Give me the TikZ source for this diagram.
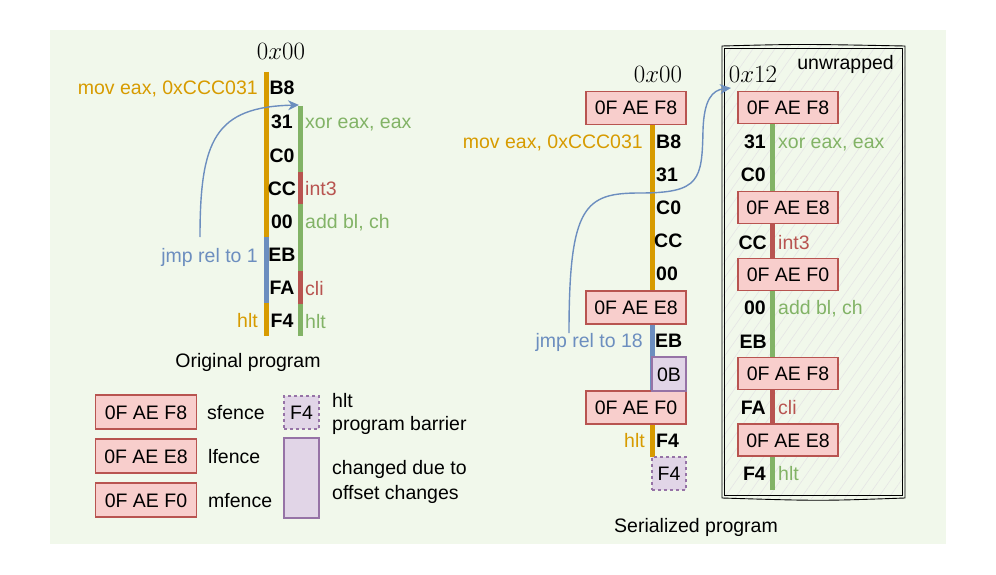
\documentclass[tikz,border=0pt]{standalone}
\usepackage{fontspec}
\setmainfont{Liberation Sans}
\usetikzlibrary{patterns.meta,arrows.meta}
\definecolor{bg}{RGB}{241,248,235}
\definecolor{orng}{HTML}{D79B00}
\definecolor{grn}{HTML}{82B366}
\definecolor{blu}{HTML}{6C8EBF}
\definecolor{rd}{HTML}{B85450}
\definecolor{rdf}{HTML}{F8CECC}
\definecolor{prp}{HTML}{9673A6}
\definecolor{prpf}{HTML}{E1D5E7}
\begin{document}
\begin{tikzpicture}[x=1pt,y=-1pt,
  every node/.style={inner sep=0pt, text height=14pt, text depth=0pt, font=\fontsize{19.5}{23}\selectfont},
  bytel/.style={font=\fontsize{19.5}{23}\selectfont\bfseries},
  mathl/.style={font=\fontsize{24.88}{28}\selectfont, text height=16pt},
  fence/.style={draw=rd, fill=rdf, line width=1.2pt, minimum width=100pt, minimum height=33pt},
  chg/.style={draw=prp, fill=prpf, line width=1.2pt, minimum width=34pt, minimum height=34pt},
  barrier/.style={chg, dashed},
  barr/.style={line width=5pt},
  jmparrow/.style={blu, line width=1.4pt, -{Stealth[length=11pt,width=10pt]}},
  sketchbox/.style={draw=black, line width=0.9pt}
]
\useasboundingbox (0,0) rectangle (996,575);
\fill[bg] (50,30) rectangle (946,544);

% ---------- Original program ----------
\node[mathl] (o0) at (281,52) {$0x00$};
\draw[barr,orng] (266,72) -- (266,237);
\draw[barr,blu] (266,237) -- (266,303);
\draw[barr,orng] (266,303) -- (266,336);
\draw[barr,grn] (300,106) -- (300,172);
\draw[barr,rd] (300,172) -- (300,204);
\draw[barr,grn] (300,204) -- (300,271);
\draw[barr,rd] (300,271) -- (300,304);
\draw[barr,grn] (300,304) -- (300,336);
\node[bytel] (ob1) at (282,88) {B8};
\node[bytel] (ob2) at (282,122) {31};
\node[bytel] (ob3) at (282,155) {C0};
\node[bytel] (ob4) at (282,188) {CC};
\node[bytel] (ob5) at (282,221) {00};
\node[bytel] (ob6) at (282,254) {EB};
\node[bytel] (ob7) at (282,287) {FA};
\node[bytel] (ob8) at (282,320) {F4};
\node[orng,anchor=east] (omov) at (258,88) {mov eax, 0xCCC031};
\node[blu,anchor=east] (ojmp) at (258,255) {jmp rel to 1};
\node[orng,anchor=east] (ohlt) at (258,320) {hlt};
\node[grn,anchor=west] (oxor) at (305,122) {xor eax, eax};
\node[rd,anchor=west] (oint) at (305,188) {int3};
\node[grn,anchor=west] (oadd) at (305,221) {add bl, ch};
\node[rd,anchor=west] (ocli) at (305,288) {cli};
\node[grn,anchor=west] (ohlt2) at (305,321) {hlt};
\coordinate (ojs) at (200,237);
\coordinate (oje) at (299,105);
\draw[jmparrow] (ojs) .. controls (200,140) and (215,107) .. (oje);
\node (otitle) at (248,360) {Original program};

% ---------- Legend ----------
\node[fence, minimum width=101pt, minimum height=34pt] (lf1) at (146,412) {0F AE F8};
\node[fence, minimum width=101pt, minimum height=34pt] (lf2) at (146,456) {0F AE E8};
\node[fence, minimum width=101pt, minimum height=34pt] (lf3) at (146,500) {0F AE F0};
\node[anchor=west] (ls1) at (207,412) {sfence};
\node[anchor=west] (ls2) at (208,456) {lfence};
\node[anchor=west] (ls3) at (208,500) {mfence};
\node[barrier, minimum width=35pt, minimum height=33pt] (lb) at (301.5,412.5) {F4};
\node[chg, minimum width=35pt, minimum height=80pt] (lc) at (301.5,478) {};
\node[anchor=west] (lt1) at (332,400) {hlt};
\node[anchor=west] (lt2) at (332,423) {program barrier};
\node[anchor=west] (lt3) at (332,467) {changed due to};
\node[anchor=west] (lt4) at (332,492) {offset changes};

% ---------- Serialized program ----------
\node[mathl] (s0) at (658,75) {$0x00$};
\draw[barr,orng] (652,124) -- (652,291);
\draw[barr,blu] (652,324) -- (652,391);
\draw[barr,orng] (652,424) -- (652,457);
\node[fence] (sf1) at (636,108) {0F AE F8};
\node[fence] (sf2) at (636,307.5) {0F AE E8};
\node[fence] (sf3) at (636,407.5) {0F AE F0};
\node[bytel,anchor=west] (sb1) at (656,142) {B8};
\node[bytel,anchor=west] (sb2) at (656,175) {31};
\node[bytel,anchor=west] (sb3) at (656,207) {C0};
\node[bytel,anchor=west] (sb4) at (654,240) {CC};
\node[bytel,anchor=west] (sb5) at (656,273) {00};
\node[bytel,anchor=west] (sb6) at (655,340) {EB};
\node[bytel,anchor=west] (sb7) at (656,440) {F4};
\node[chg] (s0b) at (669,374) {0B};
\node[barrier, minimum height=33pt] (sbar) at (669,473.5) {F4};
\node[orng,anchor=east] (smov) at (643,142) {mov eax, 0xCCC031};
\node[blu,anchor=east] (sjmp) at (643,340) {jmp rel to 18};
\node[orng,anchor=east] (shlt) at (645,440) {hlt};
\node (stitle) at (696,525) {Serialized program};

% ---------- Unwrapped ----------
\fill[pattern={Lines[angle=55,distance=9pt,line width=0.6pt]}, pattern color=black!10] (722,46) rectangle (905,498);
\draw[sketchbox] (722,46) .. controls (800,44) .. (905,46) -- (905,498) .. controls (820,501) .. (722,498) -- cycle;
\draw[sketchbox] (724.5,48.5) -- (902.5,48.5) -- (902.5,495.5) -- (724.5,495.5) -- cycle;
\node[anchor=east] (uw) at (894,63) {unwrapped};
\node[mathl] (u0) at (753,75) {$0x12$};
\draw[barr,grn] (772,123) -- (772,192);
\draw[barr,rd] (772,223) -- (772,258);
\draw[barr,grn] (772,291) -- (772,357);
\draw[barr,rd] (772,390) -- (772,423);
\draw[barr,grn] (772,457) -- (772,490);
\node[fence, minimum height=32pt] (uf1) at (788,107.5) {0F AE F8};
\node[fence, minimum height=32pt] (uf2) at (788,207.5) {0F AE E8};
\node[fence, minimum height=32pt] (uf3) at (788,274.5) {0F AE F0};
\node[fence, minimum height=32pt] (uf4) at (788,373.5) {0F AE F8};
\node[fence, minimum height=32pt] (uf5) at (788,440) {0F AE E8};
\node[bytel,anchor=east] (ub1) at (766,142) {31};
\node[bytel,anchor=east] (ub2) at (766,175) {C0};
\node[bytel,anchor=east] (ub3) at (767,242) {CC};
\node[bytel,anchor=east] (ub4) at (766,307) {00};
\node[bytel,anchor=east] (ub5) at (767,341) {EB};
\node[bytel,anchor=east] (ub6) at (766,407) {FA};
\node[bytel,anchor=east] (ub7) at (766,473) {F4};
\node[grn,anchor=west] (uxor) at (778,142) {xor eax, eax};
\node[rd,anchor=west] (uint) at (778,242) {int3};
\node[grn,anchor=west] (uadd) at (778,307) {add bl, ch};
\node[rd,anchor=west] (ucli) at (778,407) {cli};
\node[grn,anchor=west] (uhlt) at (778,473) {hlt};

\coordinate (sjs) at (569,333);
\coordinate (sje) at (731,88);
\draw[jmparrow] (sjs) .. controls (569,205) and (585,193) .. (640,193)
  .. controls (700,193) and (702,180) .. (703,130)
  .. controls (704,100) and (712,90) .. (sje);
\end{tikzpicture}
\end{document}
